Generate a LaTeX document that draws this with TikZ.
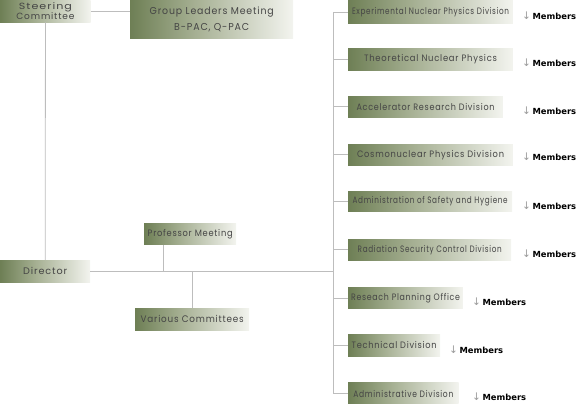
\documentclass[tikz,border=0pt]{standalone}
\usepackage{fontspec}
\setmainfont{Poppins}[LetterSpace=9]
\newfontfamily\memfont{DejaVu Sans}
\usetikzlibrary{calc}
\definecolor{boxdark}{HTML}{6E7F55}
\definecolor{boxmid}{HTML}{A6B093}
\definecolor{boxlight}{HTML}{F3F4EF}
\definecolor{linegray}{HTML}{BDBDBD}
\definecolor{txtgray}{HTML}{454545}
\definecolor{arrgray}{HTML}{9A9A9A}
\pgfdeclarehorizontalshading{boxshade}{100bp}{color(0bp)=(boxdark); color(25bp)=(boxdark); color(45bp)=(boxmid); color(75bp)=(boxlight); color(100bp)=(boxlight)}
\tikzset{
  unitbox/.style={shading=boxshade, inner sep=0pt, anchor=north west, text=txtgray, align=center, font=\fontsize{9.3}{9.5}\selectfont},
  conn/.style={draw=linegray, line width=0.8pt},
  mem/.style={anchor=west, inner sep=0pt, font=\memfont\fontsize{8.4}{10}\selectfont}
}
\newcommand{\fitw}[2]{\resizebox{#1}{\height}{#2}}
\newcommand{\mbr}{{\color{arrgray}\fontsize{10.5}{10}\selectfont↓}\hspace{1.5pt}\textbf{Members}}
\begin{document}
\begin{tikzpicture}[x=1pt,y=-1pt]
\useasboundingbox (0,0) rectangle (579,404);
% left side
\node[unitbox, minimum width=90.5pt, minimum height=22pt, font=\fontsize{9}{9.2}\selectfont] (steer) at (0,0) {\fitw{53pt}{Steering}\\\fitw{58pt}{Committee}};
\node[unitbox, minimum width=163pt, minimum height=38pt, font=\fontsize{10}{15.5}\selectfont] (gl) at (130,0) {\fitw{124pt}{Group Leaders Meeting}\\\fitw{75pt}{B-PAC, Q-PAC}};
\node[unitbox, minimum width=90pt, minimum height=22pt, font=\fontsize{9.5}{10}\selectfont] (dir) at (0,260) {\fitw{44pt}{Director}};
\node[unitbox, minimum width=92pt, minimum height=21.5pt] (prof) at (144,223) {\fitw{85pt}{Professor Meeting}};
\node[unitbox, minimum width=114pt, minimum height=22pt, font=\fontsize{9.5}{10}\selectfont] (var) at (135,308) {\fitw{103pt}{Various Committees}};
% divisions
\node[unitbox, minimum width=164.7pt, minimum height=22.5pt] (d1) at (348,0.5) {\fitw{157pt}{Experimental Nuclear Physics Division}};
\node[unitbox, minimum width=164.7pt, minimum height=21.7pt] (d2) at (348,48.3) {\fitw{133pt}{Theoretical Nuclear Physics}};
\node[unitbox, minimum width=154.7pt, minimum height=21.3pt] (d3) at (348,96) {\fitw{138pt}{Accelerator Research Division}};
\node[unitbox, minimum width=164.7pt, minimum height=21.3pt] (d4) at (348,144) {\fitw{147pt}{Cosmonuclear Physics Division}};
\node[unitbox, minimum width=164pt, minimum height=20.7pt] (d5) at (348,191) {\fitw{155pt}{Administration of Safety and Hygiene}};
\node[unitbox, minimum width=163pt, minimum height=21pt] (d6) at (348,239) {\fitw{144pt}{Radiation Security Control Division}};
\node[unitbox, minimum width=114.7pt, minimum height=21pt] (d7) at (348,287.3) {\fitw{109pt}{Reseach Planning Office}};
\node[unitbox, minimum width=92pt, minimum height=21.7pt] (d8) at (348,334.3) {\fitw{85pt}{Technical Division}};
\node[unitbox, minimum width=110.3pt, minimum height=21.5pt] (d9) at (348,382.7) {\fitw{100pt}{Administrative Division}};
% members
\node[mem] (m1) at (522,15.5) {\mbr};
\node[mem] (m2) at (522,63) {\mbr};
\node[mem] (m3) at (522,111) {\mbr};
\node[mem] (m4) at (522,157) {\mbr};
\node[mem] (m5) at (522,206) {\mbr};
\node[mem] (m6) at (522,254) {\mbr};
\node[mem] (m7) at (472,302) {\mbr};
\node[mem] (m8) at (449,349.5) {\mbr};
\node[mem] (m9) at (472,396.5) {\mbr};
% connectors
\coordinate (bus) at (333,0);
\draw[conn] (steer.east) -- (steer.east -| gl.west);
\draw[conn] (steer.south) -- (dir.north);
\draw[conn] (dir.east) -- (bus |- dir.east);
\draw[conn] ([xshift=-27pt]prof.south) -- ([xshift=-27pt]prof.south |- dir.east);
\draw[conn] (var.north) -- (var.north |- dir.east);
\draw[conn] (bus |- d1.west) -- (bus |- d9.west);
\foreach \d in {d1,d2,d3,d4,d5,d6,d7,d8,d9} {
  \draw[conn] (bus |- \d.west) -- (\d.west);
}
\end{tikzpicture}
\end{document}
